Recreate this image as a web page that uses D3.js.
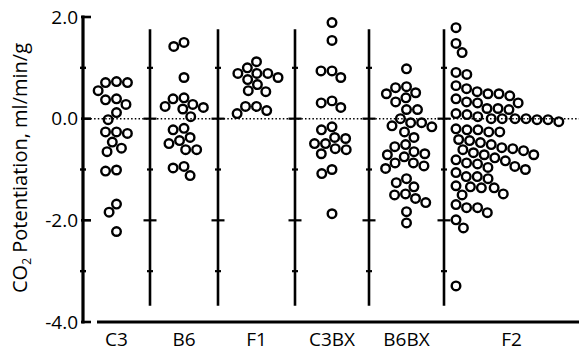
<!DOCTYPE html>
<html>
<head>
<meta charset="utf-8">
<script src="https://cdn.jsdelivr.net/npm/d3@7.9.0/dist/d3.min.js"></script>
<style>
  body { margin: 0; background: #fff; }
  svg { display: block; font-family: 'Open Sans', sans-serif; }
</style>
</head>
<body>
<svg id="chart" width="579" height="351"></svg>
<script>
// group names, left to right
const groups = ['C3', 'B6', 'F1', 'C3BX', 'B6BX', 'F2'];

// CO2 potentiation per animal (ml/min/g)
const c3 = [0.55, 0.71, 0.73, 0.71, 0.37, 0.28, 0.39, 0.12, -0.02, -0.26, -0.26, -0.29,
  -0.46, -0.58, -0.65, -1.03, -1.01, -1.68, -1.84, -2.22];
const b6 = [1.42, 1.50, 0.81, 0.41, 0.39, 0.22, 0.28, 0.19, 0.24, 0.04, -0.22, -0.19,
  -0.37, -0.43, -0.49, -0.61, -0.61, -0.97, -0.94, -1.12];
const f1 = [1.12, 0.89, 0.89, 1.00, 0.77, 0.81, 0.89, 0.67, 0.53, 0.55, 0.24, 0.16, 0.24, 0.10];
const c3bx = [1.89, 1.54, 0.81, 0.94, 0.94, 0.22, 0.35, 0.31, -0.16, -0.22, -0.39, -0.37,
  -0.49, -0.49, -0.61, -0.69, -0.59, -1.08, -1.00, -1.87];
const b6bx = [0.98, 0.61, 0.63, 0.41, 0.51, 0.49, 0.33, 0.18, 0.18, -0.08, -0.08, 0.00,
  -0.16, -0.14, -0.26, -0.37, -0.51, -0.55, -0.65, -0.75, -0.71, -0.69, -0.87, -0.98,
  -0.93, -0.87, -1.18, -1.26, -1.34, -1.50, -1.57, -1.48, -1.65, -1.83, -2.05];
const f2 = [1.79, 1.48, 1.30, 0.87, 0.91, 0.65, 0.49, 0.45, 0.53, 0.59, 0.49, 0.31, 0.33,
  0.39, 0.31, 0.20, 0.20, 0.18, 0.00, -0.02, -0.02, 0.04, 0.00, -0.06, 0.08, 0.00, 0.00,
  0.10, -0.26, -0.22, -0.26, -0.20, -0.22, -0.43, -0.47, -0.41, -0.67, -0.63, -0.57,
  -0.51, -0.59, -0.61, -0.71, -0.71, -0.83, -0.89, -0.77, -0.87, -0.81, -0.94, -0.96,
  -1.00, -1.06, -1.14, -1.18, -1.14, -1.36, -1.32, -1.34, -1.36, -1.50, -1.48, -1.69,
  -1.75, -1.85, -1.75, -1.99, -2.15, -3.29];

const series = [c3, b6, f1, c3bx, b6bx, f2];
const yLabels = [2, 0, -2, -4];
const yMinor = [1, -1, -3];

const svg = d3.select('#chart');

// panel boundaries (piecewise, F2 panel is wider)
const x = d3.scaleLinear()
  .domain(d3.range(groups.length + 1))
  .range([83, 150, 218, 295, 369, 444, 579]);

const y = d3.scaleLinear().domain([-4, 2]).range([322, 17]);

const r = 4.3;
const diam = 11;

// greedy swarm: each point goes to the free spot nearest its anchor
function swarm(values, anchor, rightOnly) {
  const placed = [];
  const sorted = values.slice().sort((a, b) => b - a);
  for (const v of sorted) {
    const py = y(v);
    const spans = placed
      .filter((p) => Math.abs(p.y - py) < diam)
      .map((p) => {
        const dx = Math.sqrt(diam * diam - (p.y - py) ** 2);
        return [p.x - dx, p.x + dx];
      });
    let cands = [anchor, ...spans.flat()];
    if (rightOnly) cands = cands.filter((c) => c >= anchor);
    cands = cands.filter((c) => spans.every(([a, b]) => c <= a + 1e-6 || c >= b - 1e-6));
    const best = d3.least(cands, (c) => Math.abs(c - anchor));
    placed.push({ x: best, y: py, v });
  }
  return placed;
}

// dotted zero line
svg.append('line')
  .attr('x1', x(0)).attr('x2', 579)
  .attr('y1', y(0)).attr('y2', y(0))
  .attr('stroke', '#000').attr('stroke-width', 1.5)
  .attr('stroke-dasharray', '1.5,2.2');

// group separators with their own ticks
const seps = svg.append('g');
d3.range(1, groups.length).forEach((i) => {
  const sx = x(i);
  seps.append('line')
    .attr('x1', sx).attr('x2', sx)
    .attr('y1', y(1.76)).attr('y2', y(-3.68))
    .attr('stroke', '#000').attr('stroke-width', 2.6);
  [1, 0, -1, -2, -3].forEach((t) => {
    const half = (t === 0 || t === -2) ? 6.5 : 3;
    seps.append('line')
      .attr('x1', sx - half).attr('x2', sx + half)
      .attr('y1', y(t)).attr('y2', y(t))
      .attr('stroke', '#000').attr('stroke-width', 2.2);
  });
});

// y axis
const axisG = svg.append('g');
axisG.append('line')
  .attr('x1', x(0)).attr('x2', x(0))
  .attr('y1', y(2) - 1.5).attr('y2', y(-4) + 1.5)
  .attr('stroke', '#000').attr('stroke-width', 3.2);
yLabels.forEach((t) => {
  axisG.append('line')
    .attr('x1', x(0) - 2).attr('x2', x(0) + 8)
    .attr('y1', y(t)).attr('y2', y(t))
    .attr('stroke', '#000').attr('stroke-width', 2.6);
});
yMinor.forEach((t) => {
  axisG.append('line')
    .attr('x1', x(0) - 3).attr('x2', x(0) + 3)
    .attr('y1', y(t)).attr('y2', y(t))
    .attr('stroke', '#000').attr('stroke-width', 2.4);
});

const yAxis = d3.axisLeft(y)
  .tickValues(yLabels)
  .tickSize(0)
  .tickPadding(4)
  .tickFormat((d) => d.toFixed(1));
svg.append('g')
  .attr('transform', `translate(${x(0) - 1},0)`)
  .call(yAxis)
  .call((g) => g.select('.domain').remove())
  .selectAll('text')
  .attr('font-family', "'Open Sans', sans-serif")
  .attr('font-size', 19)
  .attr('fill', '#000');

// x axis baseline and group labels
svg.append('line')
  .attr('x1', 97).attr('x2', 579)
  .attr('y1', y(-4)).attr('y2', y(-4))
  .attr('stroke', '#000').attr('stroke-width', 3.2);

svg.append('g')
  .selectAll('text')
  .data(groups)
  .join('text')
  .attr('x', (d, i) => x(i + 0.5))
  .attr('y', 346)
  .attr('text-anchor', 'middle')
  .attr('font-size', 19)
  .text((d) => d);

// y title with subscript
const title = svg.append('text')
  .attr('transform', 'translate(27,168) rotate(-90)')
  .attr('text-anchor', 'middle')
  .attr('font-size', 20);
title.append('tspan').text('CO');
title.append('tspan').attr('font-size', 12).attr('dy', 4).text('2');
title.append('tspan').attr('dy', -4).text(' Potentiation, ml/min/g');

// points
const pts = svg.append('g');
series.forEach((vals, i) => {
  const rightOnly = groups[i] === 'F2';
  const anchor = rightOnly ? x(i) + 12 : x(i + 0.5);
  const placed = swarm(vals, anchor, rightOnly);
  pts.append('g')
    .selectAll('circle')
    .data(placed)
    .join('circle')
    .attr('cx', (d) => d.x)
    .attr('cy', (d) => d.y)
    .attr('r', r)
    .attr('fill', 'none')
    .attr('stroke', '#000')
    .attr('stroke-width', 2.4);
});
</script>
</body>
</html>
